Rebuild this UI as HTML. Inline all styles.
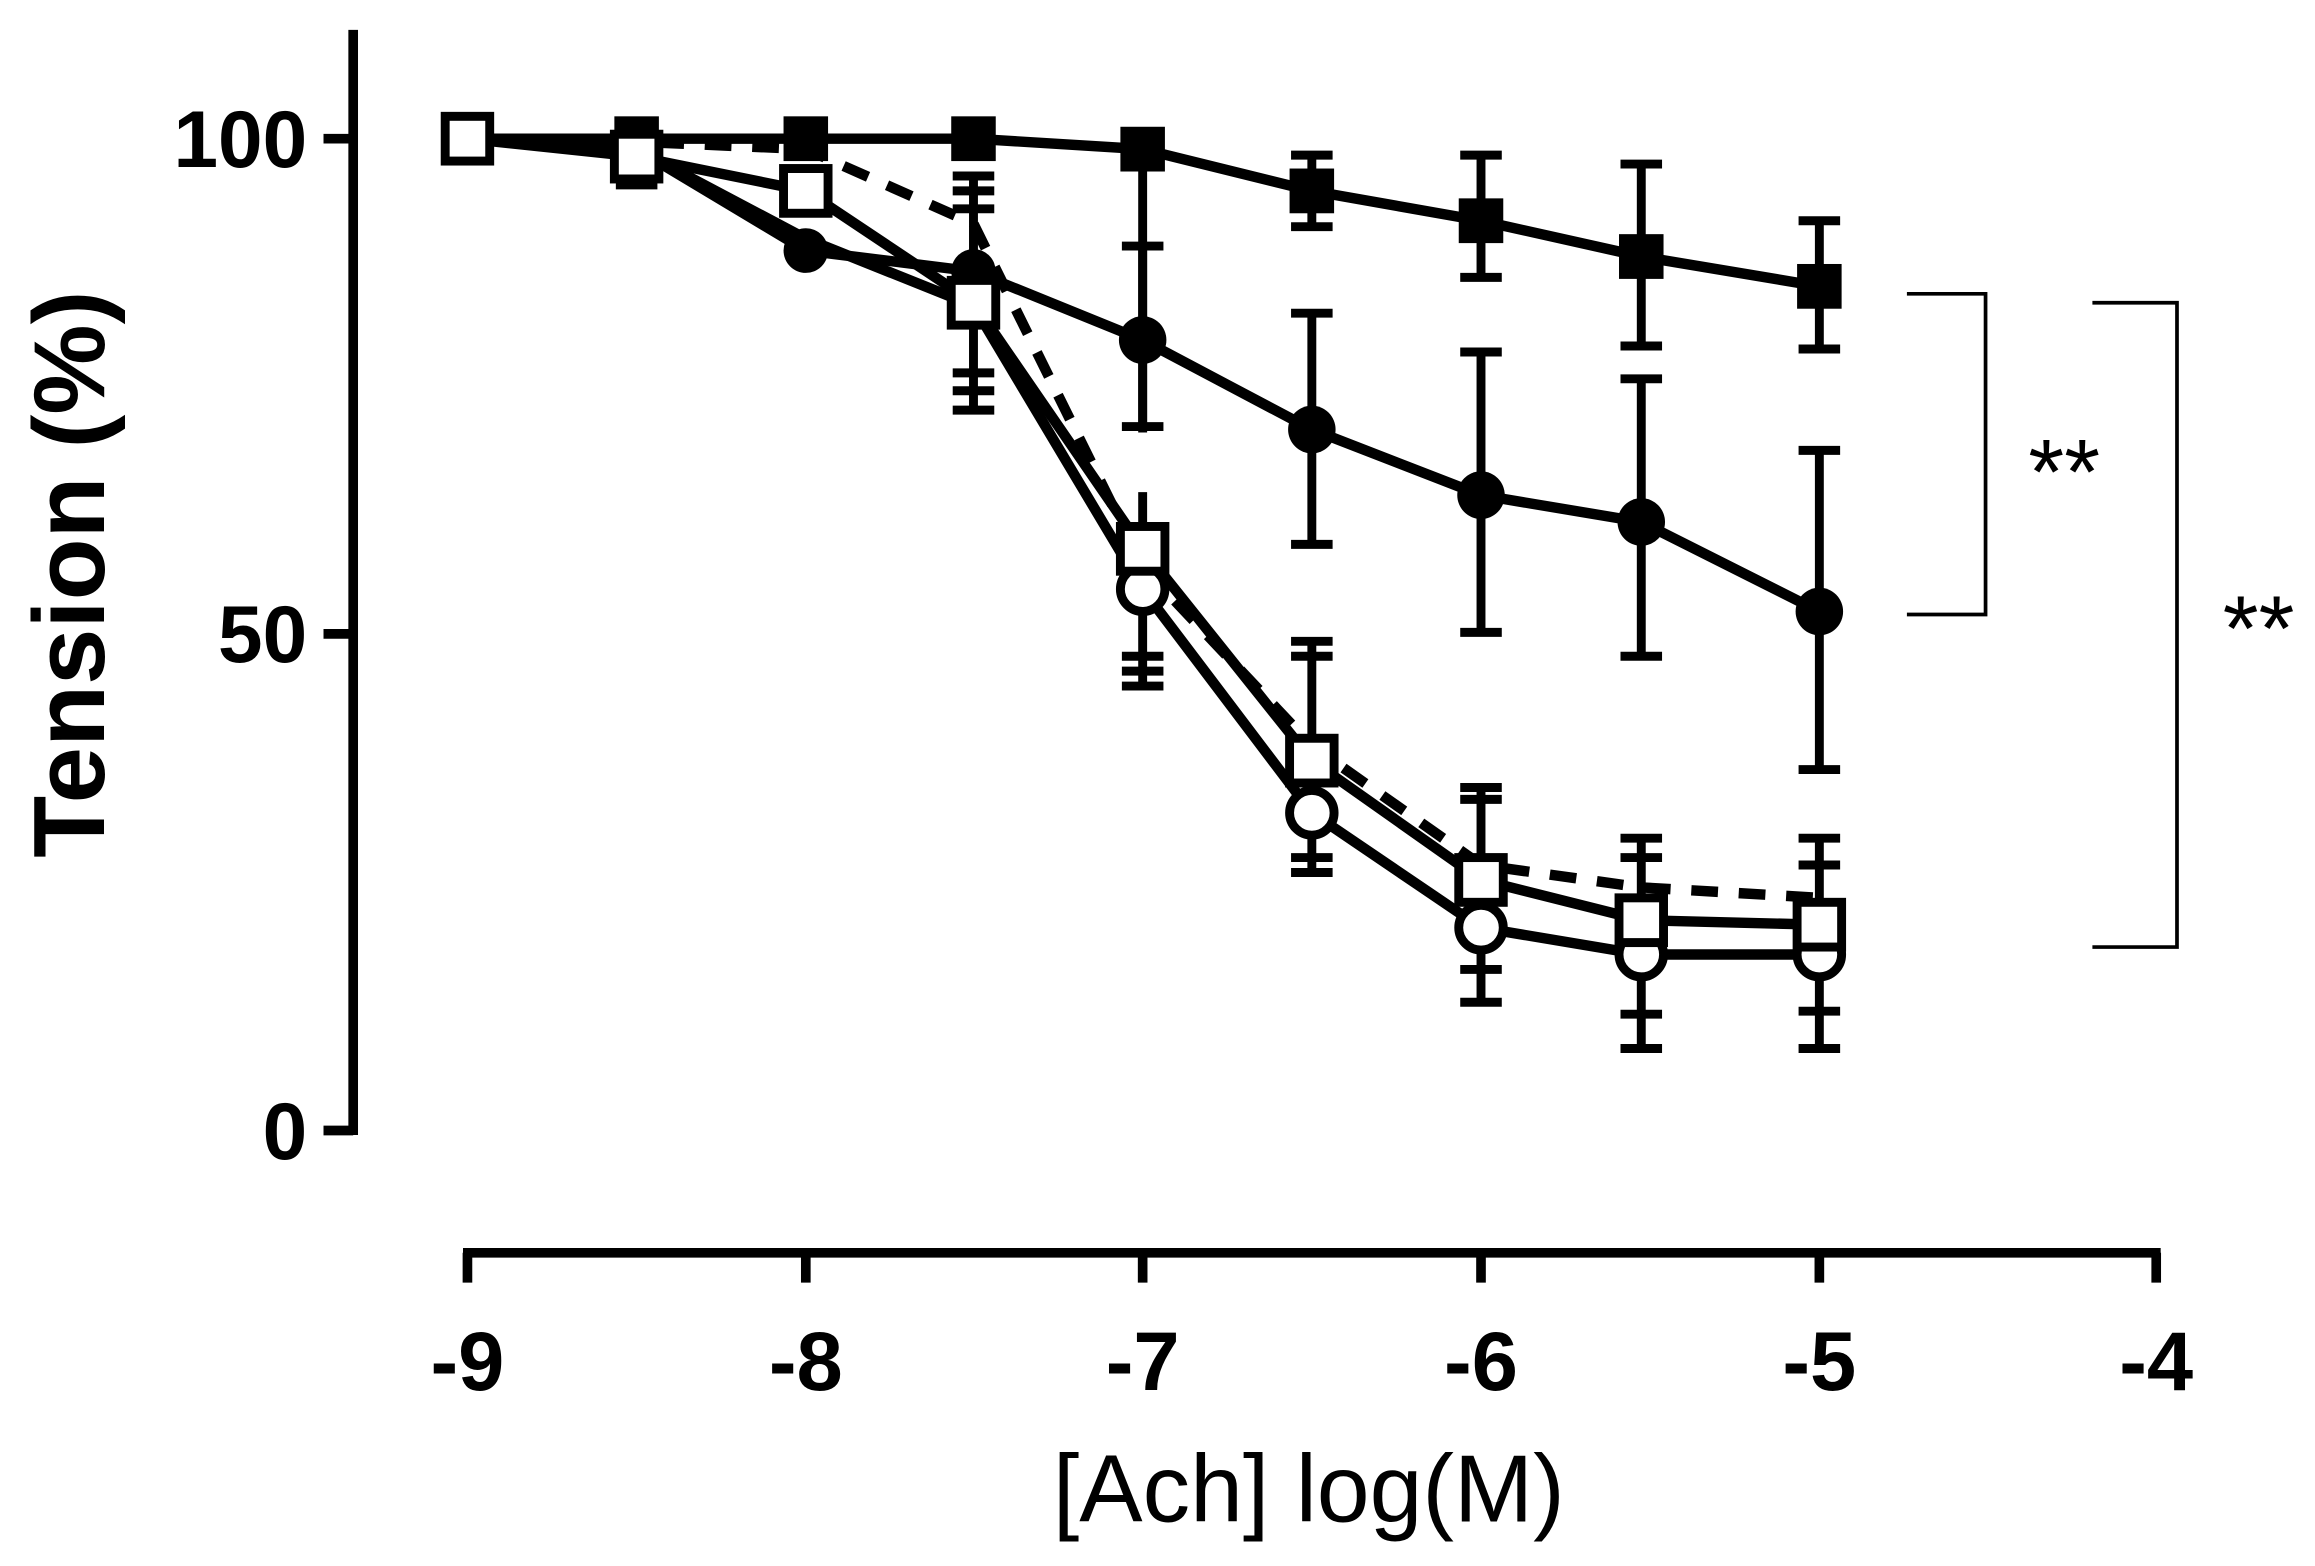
<!DOCTYPE html>
<html><head><meta charset="utf-8"><style>
html,body{margin:0;padding:0;background:#fff;}
svg{display:block;}
</style></head><body>
<svg width="2315" height="1566" viewBox="0 0 1560 1050" preserveAspectRatio="none" xmlns="http://www.w3.org/2000/svg">
<rect width="1560" height="1050" fill="#fff"/>
<g stroke="#000" stroke-width="6.5" fill="none">
<line x1="238" y1="20" x2="238" y2="761"/>
<line x1="218" y1="93" x2="238" y2="93"/>
<line x1="218" y1="425" x2="238" y2="425"/>
<line x1="218" y1="758" x2="238" y2="758"/>
<line x1="312" y1="840" x2="1456" y2="840"/>
<line x1="315" y1="840" x2="315" y2="860"/>
<line x1="543" y1="840" x2="543" y2="860"/>
<line x1="770" y1="840" x2="770" y2="860"/>
<line x1="998" y1="840" x2="998" y2="860"/>
<line x1="1226" y1="840" x2="1226" y2="860"/>
<line x1="1453" y1="840" x2="1453" y2="860"/>
</g>
<g font-family="Liberation Sans, sans-serif" font-weight="bold" font-size="54" text-anchor="end">
<text x="207" y="112">100</text><text x="207" y="444">50</text><text x="207" y="777">0</text>
</g>
<g font-family="Liberation Sans, sans-serif" font-weight="bold" font-size="56" text-anchor="middle">
<text x="315" y="932">-9</text><text x="543" y="932">-8</text><text x="770" y="932">-7</text><text x="998" y="932">-6</text><text x="1226" y="932">-5</text><text x="1453" y="932">-4</text>
<text transform="translate(70,385) rotate(-90)" font-size="68">Tension (%)</text>
</g>
<text x="882" y="1020" font-family="Liberation Sans, sans-serif" font-size="64" text-anchor="middle">[Ach] log(M)</text>
<g stroke="#000" stroke-width="6">
<path d="M884 104V152M870 104H898M870 152H898 M998 104V186M984 104H1012M984 186H1012 M1106 110V232M1092 110H1120M1092 232H1120 M1226 148V234M1212 148H1240M1212 234H1240 M770 95V286M756 286H784"/>
<path d="M770 165V290M756 165H784 M884 210V365M870 210H898M870 365H898 M998 236V424M984 236H1012M984 424H1012 M1106 254V440M1092 254H1120M1092 440H1120 M1226 302V516M1212 302H1240M1212 516H1240"/>
<path d="M429 90V124M415 124H443 M656 115V275M642 118H670M642 128H670M642 140H670M642 250H670M642 262H670M642 275H670 M770 330V460M756 440H784M756 450H784M756 460H784 M884 430V585M870 430H898M870 440H898M870 575H898M870 585H898 M998 528V672M984 528H1012M984 536H1012M984 650H1012M984 672H1012 M1106 562V703M1092 562H1120M1092 575H1120M1092 680H1120M1092 703H1120 M1226 562V703M1212 562H1240M1212 580H1240M1212 678H1240M1212 703H1240"/>
</g>
<g stroke="#000" stroke-width="7" fill="none" stroke-linejoin="round">
<polyline points="315,93 429,93 543,93 656,93 770,100 884,128 998,148 1106,172 1226,192"/>
<polyline points="315,93 429,100 543,168 656,182 770,228 884,288 998,332 1106,350 1226,410"/>
<polyline points="315,93 429,100 543,160 656,205 770,395 884,545 998,622 1106,640 1226,640"/>
<polyline points="315,93 429,105 543,128 656,203 770,368 884,510 998,590 1106,617 1226,620"/>
<polyline stroke-dasharray="18,14" points="315,93 429,95 543,100 656,150 770,380 884,500 998,580 1106,595 1226,602"/>
</g>
<g fill="#000">
<rect x="414" y="78" width="30" height="30"/><rect x="528" y="78" width="30" height="30"/><rect x="641" y="78" width="30" height="30"/><rect x="755" y="85" width="30" height="30"/><rect x="869" y="113" width="30" height="30"/><rect x="983" y="133" width="30" height="30"/><rect x="1091" y="157" width="30" height="30"/><rect x="1211" y="177" width="30" height="30"/>
<circle cx="543" cy="168" r="15"/><circle cx="656" cy="182" r="15"/><circle cx="770" cy="228" r="16"/><circle cx="884" cy="288" r="16"/><circle cx="998" cy="332" r="16"/><circle cx="1106" cy="350" r="16"/><circle cx="1226" cy="410" r="16"/>
</g>
<g fill="#fff" stroke="#000" stroke-width="6">
<circle cx="770" cy="395" r="15"/><circle cx="884" cy="545" r="15"/><circle cx="998" cy="622" r="15"/><circle cx="1106" cy="640" r="15"/><circle cx="1226" cy="640" r="15"/>
<rect x="300" y="78" width="30" height="30"/><rect x="414" y="90" width="30" height="30"/><rect x="528" y="113" width="30" height="30"/><rect x="641" y="188" width="30" height="30"/><rect x="755" y="353" width="30" height="30"/><rect x="869" y="495" width="30" height="30"/><rect x="983" y="575" width="30" height="30"/><rect x="1091" y="602" width="30" height="30"/><rect x="1211" y="605" width="30" height="30"/>
</g>
<g stroke="#000" stroke-width="2.5" fill="none">
<polyline points="1285,197 1338,197 1338,412 1285,412"/>
<polyline points="1410,203 1467,203 1467,635 1410,635"/>
</g>
<g font-family="Liberation Sans, sans-serif" font-size="62" text-anchor="middle">
<text x="1391" y="338">**</text><text x="1522" y="443">**</text>
</g>
</svg>
</body></html>
